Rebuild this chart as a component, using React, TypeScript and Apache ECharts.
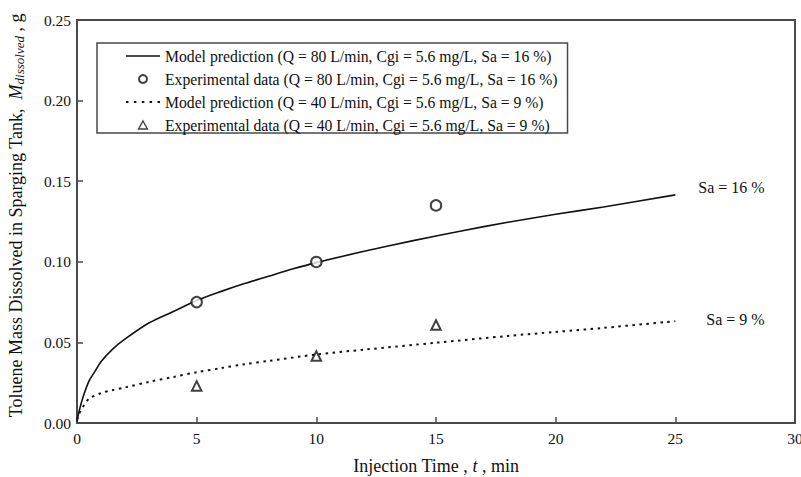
import React, { useEffect, useRef } from "react";
import * as echarts from "echarts";

// Model prediction curves
const modelTime80 = [0, 0.1, 0.25, 0.5, 0.75, 1, 1.5, 2, 3, 4, 5, 6, 7, 8, 9, 10, 12, 14, 16, 18, 20, 22, 25];
const modelMass80 = [0.001, 0.008, 0.016, 0.026, 0.032, 0.038, 0.046, 0.052, 0.062, 0.069, 0.076, 0.0815, 0.0865, 0.091, 0.0955, 0.0995, 0.1065, 0.113, 0.119, 0.1245, 0.1295, 0.134, 0.1415];

const modelTime40 = [0, 0.1, 0.25, 0.5, 1, 1.5, 2, 3, 4, 5, 6, 7, 8, 10, 12, 15, 18, 20, 22, 25];
const modelMass40 = [0.002, 0.006, 0.01, 0.015, 0.0185, 0.0205, 0.022, 0.0255, 0.0285, 0.0315, 0.034, 0.0365, 0.0385, 0.0425, 0.0455, 0.0498, 0.054, 0.0565, 0.059, 0.0632];

// Experimental data
const expTime = [5, 10, 15];
const expMass80 = [0.075, 0.0999, 0.135];
const expMass40 = [0.023, 0.0416, 0.0608];

const seriesNames = [
  "Model prediction (Q = 80 L/min, Cgi = 5.6 mg/L, Sa = 16 %)",
  "Experimental data (Q = 80 L/min, Cgi = 5.6 mg/L, Sa = 16 %)",
  "Model prediction (Q = 40 L/min, Cgi = 5.6 mg/L, Sa = 9 %)",
  "Experimental data (Q = 40 L/min, Cgi = 5.6 mg/L, Sa = 9 %)",
];
const endLabels = ["Sa = 16 %", "Sa = 9 %"];

const FONT = "'Liberation Serif', 'Times New Roman', serif";
const FRAME = "#4a4a4a";
const INK = "#111";

const SOLID_ICON = "path://M0,0h34v1.6h-34z";
const DOTTED_ICON =
  "path://M0,0h2.5v2h-2.5z M7.9,0h2.5v2h-2.5z M15.8,0h2.5v2h-2.5z M23.6,0h2.5v2h-2.5z M31.5,0h2.5v2h-2.5z";
const TRIANGLE_ICON = "path://M5,0L10,9L0,9Z";

const pairs = (xs: number[], ys: number[]) => xs.map((x, i) => [x, ys[i]]);

export default function App() {
  const ref = useRef<HTMLDivElement>(null);
  useEffect(() => {
    if (!ref.current) return;
    const chart = echarts.init(ref.current, undefined, { renderer: "svg" });
    chart.setOption({
      animation: false,
      backgroundColor: "#fff",
      textStyle: { fontFamily: FONT, color: INK },
      grid: {
        left: 77,
        right: 6,
        top: 20,
        bottom: 54,
        show: true,
        borderColor: FRAME,
        borderWidth: 2,
        backgroundColor: "transparent",
        containLabel: false,
        outerBoundsMode: "none",
      },
      legend: {
        orient: "vertical",
        left: 97,
        top: 43,
        padding: [5, 10, 0, 29],
        itemWidth: 34,
        itemHeight: 8,
        itemGap: 7,
        borderColor: FRAME,
        borderWidth: 1.5,
        backgroundColor: "#fff",
        textStyle: { fontFamily: FONT, fontSize: 15.7, color: INK },
        data: [
          { name: seriesNames[0], icon: SOLID_ICON },
          { name: seriesNames[1] },
          { name: seriesNames[2], icon: DOTTED_ICON },
          {
            name: seriesNames[3],
            icon: TRIANGLE_ICON,
            itemStyle: { color: "#fff", borderColor: INK, borderWidth: 1.4 },
          },
        ],
      },
      xAxis: {
        type: "value",
        min: 0,
        max: 30,
        interval: 5,
        name: "Injection Time , {i|t} , min",
        nameLocation: "middle",
        nameGap: 34,
        nameTextStyle: {
          fontFamily: FONT,
          fontSize: 18,
          color: INK,
          rich: { i: { fontFamily: FONT, fontSize: 18, fontStyle: "italic", color: INK } },
        },
        axisLine: { show: true, lineStyle: { color: FRAME, width: 2 } },
        axisTick: { show: true, inside: true, length: 6, lineStyle: { color: FRAME, width: 1.5 } },
        axisLabel: { fontFamily: FONT, fontSize: 15.5, color: INK, margin: 7 },
        splitLine: { show: false },
      },
      yAxis: {
        type: "value",
        min: 0,
        max: 0.25,
        interval: 0.05,
        name: "Toluene Mass Dissolved in Sparging Tank,  {i|M}{sub|dissolved} , g",
        nameLocation: "middle",
        nameGap: 51,
        nameTextStyle: {
          fontFamily: FONT,
          fontSize: 18,
          color: INK,
          padding: [0, 0, 0, 12],
          rich: {
            i: { fontFamily: FONT, fontSize: 18, fontStyle: "italic", color: INK },
            sub: { fontFamily: FONT, fontSize: 13, fontStyle: "italic", color: INK, padding: [8, 0, 0, 0] },
          },
        },
        axisLine: { show: true, lineStyle: { color: FRAME, width: 2 } },
        axisTick: { show: true, inside: true, length: 6, lineStyle: { color: FRAME, width: 1.5 } },
        axisLabel: {
          fontFamily: FONT,
          fontSize: 15.5,
          color: INK,
          margin: 6,
          formatter: (v: number) => v.toFixed(2),
        },
        splitLine: { show: false },
      },
      series: [
        {
          name: seriesNames[0],
          type: "line",
          data: pairs(modelTime80, modelMass80),
          smooth: 0.3,
          symbol: "none",
          lineStyle: { color: INK, width: 1.6, type: "solid" },
          itemStyle: { color: INK },
          endLabel: {
            show: true,
            formatter: endLabels[0],
            fontFamily: FONT,
            fontSize: 16,
            color: INK,
            offset: [15, -7],
          },
          z: 2,
        },
        {
          name: seriesNames[1],
          type: "scatter",
          data: pairs(expTime, expMass80),
          symbol: "emptyCircle",
          symbolSize: 10.5,
          itemStyle: { color: INK, borderColor: INK, borderWidth: 1.5 },
          z: 3,
        },
        {
          name: seriesNames[2],
          type: "line",
          data: pairs(modelTime40, modelMass40),
          smooth: 0.3,
          symbol: "none",
          lineStyle: { color: INK, width: 2, type: [2.5, 4.5] },
          itemStyle: { color: INK },
          endLabel: {
            show: true,
            formatter: endLabels[1],
            fontFamily: FONT,
            fontSize: 16,
            color: INK,
            offset: [23, -2],
          },
          z: 2,
        },
        {
          name: seriesNames[3],
          type: "scatter",
          data: pairs(expTime, expMass40),
          symbol: "emptyTriangle",
          symbolSize: 9.5,
          itemStyle: { color: INK, borderColor: INK, borderWidth: 1.5 },
          z: 3,
        },
      ],
    });
    return () => chart.dispose();
  }, []);
  return (
    <div
      ref={ref}
      style={{ position: "fixed", left: 0, top: 0, width: 801, height: 477, background: "#fff" }}
    />
  );
}
